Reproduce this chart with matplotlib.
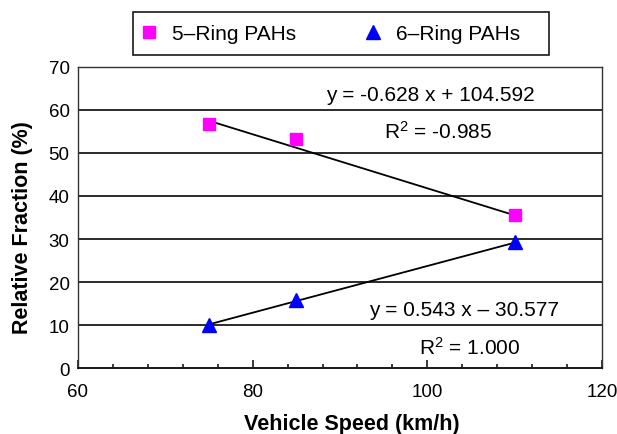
import matplotlib
matplotlib.use("Agg")
import matplotlib.pyplot as plt
from matplotlib.patches import Rectangle
from matplotlib.ticker import MultipleLocator
import numpy as np

plt.rcParams['font.family'] = ['Liberation Sans', 'DejaVu Sans']
plt.rcParams['mathtext.fontset'] = 'custom'
plt.rcParams['mathtext.rm'] = 'Liberation Sans'
plt.rcParams['mathtext.default'] = 'regular'

# vehicle speed (km/h) and relative fraction (%)
speed = [75, 85, 110]
ring5 = [56.7, 53.2, 35.6]
ring6 = [10.0, 15.7, 29.2]

# linear fits as reported
fit5 = (-0.628, 104.592, -0.985)
fit6 = (0.543, -30.577, 1.000)

fig = plt.figure(figsize=(6.17, 4.35), dpi=100)
ax = fig.add_axes([0.1264, 0.1517, 0.8493, 0.692])

ax.set_xlim(60, 120)
ax.set_ylim(0, 70)

for v in range(10, 70, 10):
    ax.axhline(v, color='#1a1a1a', lw=1.3, zorder=1)

xs = np.array([speed[0], speed[-1]])
ax.plot(xs, fit5[0] * xs + fit5[1], color='black', lw=1.3, zorder=2)
ax.plot(xs, fit6[0] * xs + fit6[1], color='black', lw=1.3, zorder=2)

ax.plot(speed, ring5, ls='none', marker='s', ms=8.5, color='#ff00ff',
        mec='#ff00ff', label='5–Ring PAHs', zorder=3)
ax.plot(speed, ring6, ls='none', marker='^', ms=10.5, color='#0000ff',
        mec='#0000ff', label='6–Ring PAHs', zorder=3)

ax.text(100.3, 63.5, 'y = %.3f x + %.3f' % (fit5[0], fit5[1]),
        fontsize=15, ha='center', va='center')
ax.text(101.2, 55.1, 'R$^2$ = %.3f' % fit5[2],
        fontsize=15, ha='center', va='center')
ax.text(104.2, 13.7, 'y = %.3f x – %.3f' % (fit6[0], -fit6[1]),
        fontsize=15, ha='center', va='center')
ax.text(104.8, 4.9, 'R$^2$ = %.3f' % fit6[2],
        fontsize=15, ha='center', va='center')

ax.xaxis.set_major_locator(MultipleLocator(20))
ax.xaxis.set_minor_locator(MultipleLocator(4))
ax.yaxis.set_major_locator(MultipleLocator(10))
ax.tick_params(axis='x', which='major', direction='in', length=6, width=1.2,
               labelsize=13.5, pad=11, color='#1a1a1a')
ax.tick_params(axis='x', which='minor', direction='in', length=3, width=1.2,
               color='#1a1a1a')
ax.tick_params(axis='y', length=0, labelsize=13.5, pad=6)

for side in ['left', 'right', 'top']:
    ax.spines[side].set_linewidth(1.0)
    ax.spines[side].set_color('#333333')
ax.spines['bottom'].set_linewidth(1.4)
ax.spines['bottom'].set_color('#1a1a1a')

ax.set_xlabel('Vehicle Speed (km/h)', fontsize=15.5, fontweight='bold')
ax.set_ylabel('Relative Fraction (%)', fontsize=15.5, fontweight='bold')
ax.xaxis.set_label_coords(0.523, -0.15)
ax.yaxis.set_label_coords(-0.085, 0.47)

# legend above the plot, boxed
fig.patches.append(Rectangle((0.2156, 0.8713), 0.6742, 0.0987,
                             transform=fig.transFigure, fill=False,
                             ec='#1a1a1a', lw=1.2))
fig.legend(loc='center left', bbox_to_anchor=(0.225, 0.9207), ncol=2,
           frameon=False, fontsize=15, handlelength=1.0, handletextpad=0.6,
           columnspacing=3.2, borderpad=0, borderaxespad=0)

fig.savefig('out.png', dpi=100)
